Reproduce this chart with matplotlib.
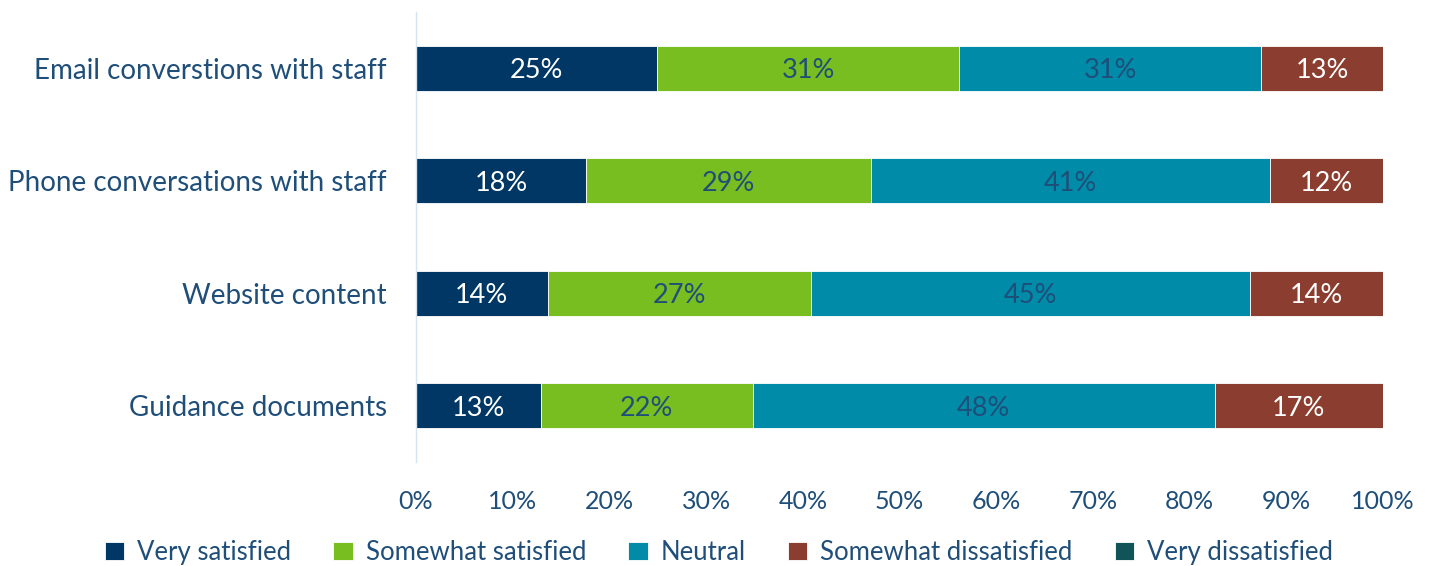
import numpy as np
import matplotlib.pyplot as plt

categories = ["Email converstions with staff", "Phone conversations with staff",
              "Website content", "Guidance documents"]
series = ["Very satisfied", "Somewhat satisfied", "Neutral",
          "Somewhat dissatisfied", "Very dissatisfied"]
very_satisfied = [24.9, 17.6, 13.6, 12.9]
somewhat_satisfied = [31.3, 29.4, 27.2, 21.9]
neutral = [31.2, 41.3, 45.4, 47.8]
somewhat_dissatisfied = [12.6, 11.7, 13.8, 17.4]
very_dissatisfied = [0, 0, 0, 0]

colors = ["#003764", "#78BE20", "#008BA8", "#8B3E2F", "#115458"]
label_colors = ["white", "#1F4E79", "#1F4E79", "white", "white"]
text_col = "#1F4E79"

plt.rcParams['font.family'] = ['Lato', 'DejaVu Sans']

fig = plt.figure(figsize=(14.35, 5.66), dpi=100)
ax = fig.add_axes([0.2899, 0.1837, 0.6739, 0.7951])

data = [very_satisfied, somewhat_satisfied, neutral, somewhat_dissatisfied, very_dissatisfied]
y = np.arange(len(categories))
left = np.zeros(len(categories))
for vals, name, c, lc in zip(data, series, colors, label_colors):
    vals = np.array(vals, dtype=float)
    bars = ax.barh(y, vals, left=left, height=0.4, color=c, label=name,
                   edgecolor="white", linewidth=0.6)
    for b, v in zip(bars, vals):
        if v > 0:
            # small downward nudge so the numbers sit like the original
            ax.text(b.get_x() + b.get_width() / 2, b.get_y() + b.get_height() / 2 + 0.02,
                    f"{v:.0f}%", ha="center", va="center", color=lc, fontsize=19.5)
    left += vals

ax.set_ylim(3.5, -0.5)
ax.set_xlim(0, 100)
ax.set_yticks(y)
ax.set_yticklabels(categories)
ax.set_xticks(np.arange(0, 101, 10))
ax.set_xticklabels([f"{t}%" for t in range(0, 101, 10)])
ax.tick_params(axis="y", length=0, pad=21, labelsize=20, labelcolor=text_col)
ax.tick_params(axis="x", length=0, pad=20, labelsize=18, labelcolor=text_col)
for s in ["top", "right", "bottom"]:
    ax.spines[s].set_visible(False)
ax.spines["left"].set_color("#D6E4F0")
ax.spines["left"].set_linewidth(1)

leg = fig.legend(loc="center", bbox_to_anchor=(0.501, 0.024), ncol=5, frameon=False,
                 fontsize=18.5, handlelength=0.75, handleheight=0.75, handletextpad=0.5,
                 columnspacing=1.65)
for t in leg.get_texts():
    t.set_color(text_col)

fig.savefig("out.png", dpi=100)
